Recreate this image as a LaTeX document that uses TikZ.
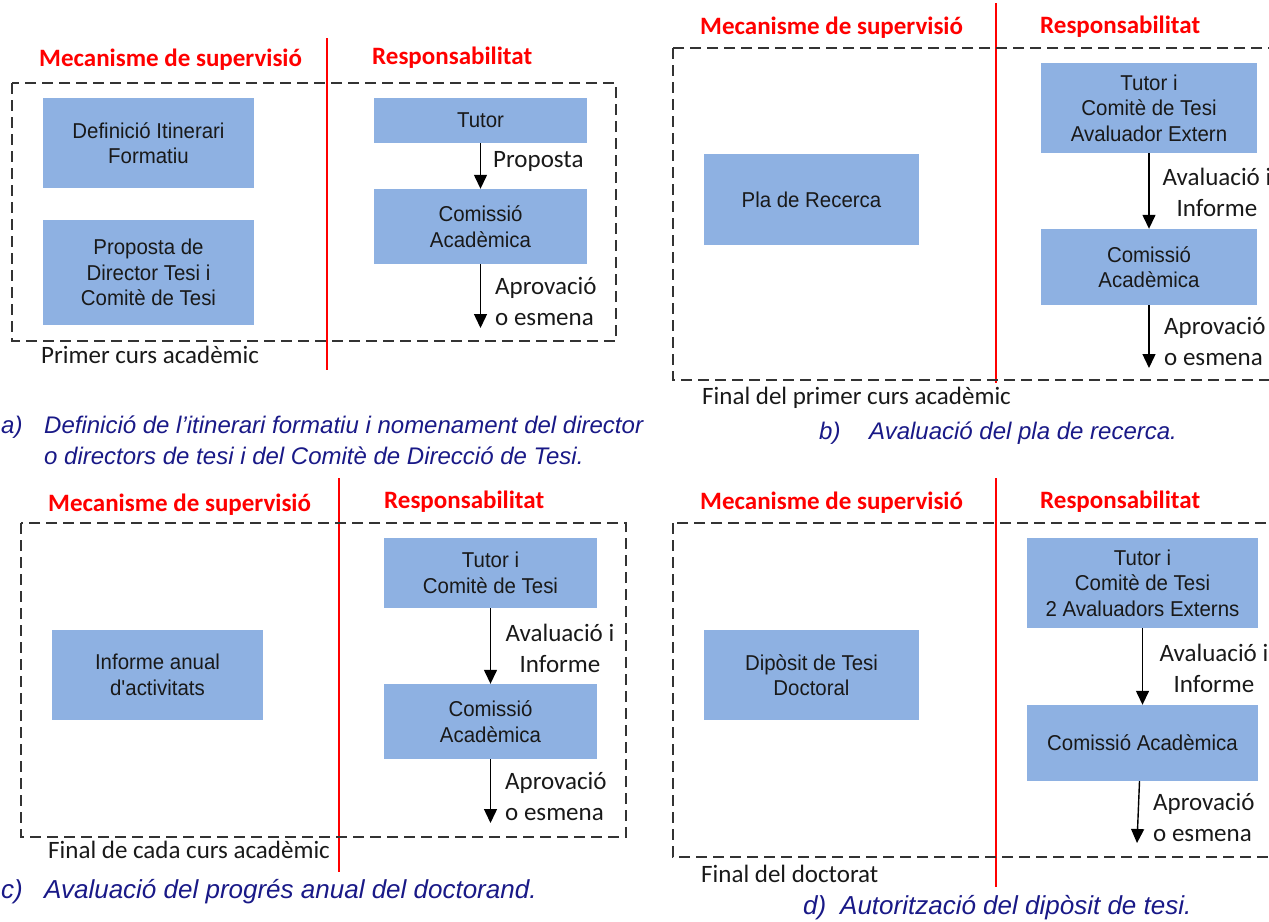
\documentclass[tikz,border=0pt]{standalone}
\usepackage{fontspec}
\setmainfont{Liberation Sans}
\newfontfamily\calib{Carlito}
\newfontfamily\boxfont[FakeStretch=0.95]{Liberation Sans}
\usetikzlibrary{arrows.meta}
\definecolor{boxblue}{RGB}{142,177,226}
\definecolor{capblue}{RGB}{25,25,135}
\definecolor{txtgray}{RGB}{25,25,25}
\begin{document}
\begin{tikzpicture}[x=1pt,y=-1pt,
  box/.style={fill=boxblue, draw=none, align=center, text=txtgray,
    font=\boxfont\fontsize{21.5}{25.5}\selectfont, inner sep=0pt},
  ttl/.style={font=\calib\bfseries\fontsize{25}{30}\selectfont, text=red, anchor=west, inner sep=0pt},
  lbl/.style={font=\calib\fontsize{25}{31}\selectfont, text=txtgray, inner sep=0pt},
  period/.style={font=\calib\fontsize{25}{30}\selectfont, text=txtgray, anchor=west, inner sep=0pt},
  capt/.style={font=\itshape\fontsize{24}{31}\selectfont, text=capblue, anchor=west, align=left, inner sep=0pt},
  frame/.style={draw=black!80, line width=1.5pt, dash pattern=on 11pt off 6pt},
  arr/.style={-{Triangle[width=13pt,length=14pt]}, line width=1.4pt, draw=black},
  sepline/.style={draw=red, line width=1.2pt}
]
\useasboundingbox (0,0) rectangle (1269,921);

% ---------------- Panel a ----------------
\node[ttl] (aT1) at (39,60) {Mecanisme de supervisió};
\node[ttl] (aT2) at (372,58) {Responsabilitat};
\draw[sepline] (327,38) -- (327,370);
\draw[frame] (12,83) rectangle (616,341);
\node[box, minimum width=211pt, minimum height=90pt] (a1) at (148.5,143) {Definició Itinerari\\Formatiu};
\node[box, minimum width=211pt, minimum height=105pt] (a2) at (148.5,272.5) {Proposta de\\Director Tesi i\\Comitè de Tesi};
\node[box, minimum width=213pt, minimum height=45pt] (aTut) at (480.5,120.5) {Tutor};
\node[box, minimum width=213pt, minimum height=75pt] (aCom) at (480.5,226.5) {Comissió\\Acadèmica};
\coordinate (aEnd) at (480.5,328);
\draw[arr] (aTut.south) -- (aCom.north);
\draw[arr] (aCom.south) -- (aEnd);
\node[lbl, anchor=west] (aL1) at (493,161) {Proposta};
\node[lbl, anchor=west, align=left] (aL2) at (495,301.5) {Aprovació\\o esmena};
\node[period] (aP) at (41,355) {Primer curs acadèmic};
\node[capt] (aC) at (1,440.5) {\makebox[43pt][l]{a)}Definició de l’itinerari formatiu i nomenament del director\\\hspace*{43pt}o directors de tesi i del Comitè de Direcció de Tesi.};

% ---------------- Panel b ----------------
\node[ttl] (bT1) at (700,28) {Mecanisme de supervisió};
\node[ttl] (bT2) at (1040,27) {Responsabilitat};
\draw[sepline] (996,3) -- (996,383);
\draw[frame] (673,48) rectangle (1290,380);
\node[box, minimum width=215pt, minimum height=91pt] (bPla) at (811.5,199.5) {Pla de Recerca};
\node[box, minimum width=216pt, minimum height=90pt] (bTut) at (1149,108) {Tutor i\\Comitè de Tesi\\Avaluador Extern};
\node[box, minimum width=216pt, minimum height=76pt] (bCom) at (1149,267) {Comissió\\Acadèmica};
\coordinate (bEnd) at (1149,368);
\draw[arr] (bTut.south) -- (bCom.north);
\draw[arr] (bCom.south) -- (bEnd);
\node[lbl, align=center] (bL1) at (1217,192.5) {Avaluació i\\Informe};
\node[lbl, anchor=west, align=left] (bL2) at (1164,341) {Aprovació\\o esmena};
\node[period] (bP) at (702,398) {Final del primer curs acadèmic};
\node[capt] (bC) at (819,433) {\makebox[50pt][l]{b)}Avaluació del pla de recerca.};

% ---------------- Panel c ----------------
\node[ttl] (cT1) at (48,505) {Mecanisme de supervisió};
\node[ttl] (cT2) at (384,502) {Responsabilitat};
\draw[sepline] (339,478) -- (339,872);
\draw[frame] (21,523) rectangle (626,837);
\node[box, minimum width=211pt, minimum height=90pt] (cInf) at (157.5,675) {Informe anual\\d'activitats};
\node[box, minimum width=213pt, minimum height=70pt] (cTut) at (490.5,573) {Tutor i\\Comitè de Tesi};
\node[box, minimum width=213pt, minimum height=75pt] (cCom) at (490.5,721.5) {Comissió\\Acadèmica};
\coordinate (cEnd) at (490.5,823);
\draw[arr] (cTut.south) -- (cCom.north);
\draw[arr] (cCom.south) -- (cEnd);
\node[lbl, align=center] (cL1) at (560,648) {Avaluació i\\Informe};
\node[lbl, anchor=west, align=left] (cL2) at (505,796.5) {Aprovació\\o esmena};
\node[period] (cP) at (48,850) {Final de cada curs acadèmic};
\node[capt, font=\itshape\fontsize{26}{31}\selectfont] (cC) at (1,892) {\makebox[43pt][l]{c)}Avaluació del progrés anual del doctorand.};

% ---------------- Panel d ----------------
\node[ttl] (dT1) at (700,503) {Mecanisme de supervisió};
\node[ttl] (dT2) at (1040,502) {Responsabilitat};
\draw[sepline] (996,478) -- (996,887);
\draw[frame] (673,523) rectangle (1290,857);
\node[box, minimum width=215pt, minimum height=90pt] (dDip) at (811.5,675) {Dipòsit de Tesi\\Doctoral};
\node[box, minimum width=231pt, minimum height=90pt] (dTut) at (1142.5,583) {Tutor i\\Comitè de Tesi\\2 Avaluadors Externs};
\node[box, minimum width=231pt, minimum height=76pt] (dCom) at (1142.5,743) {Comissió Acadèmica};
\coordinate (dEnd) at (1137,843);
\draw[arr] (dTut.south) -- (dCom.north);
\draw[arr] ([xshift=-3pt]dCom.south) -- (dEnd);
\node[lbl, align=center] (dL1) at (1214,668) {Avaluació i\\Informe};
\node[lbl, anchor=west, align=left] (dL2) at (1153,817.5) {Aprovació\\o esmena};
\node[period] (dP) at (701,874) {Final del doctorat};
\node[capt, font=\itshape\fontsize{26}{31}\selectfont] (dC) at (803,908) {\makebox[37pt][l]{d)}Autorització del dipòsit de tesi.};
\end{tikzpicture}
\end{document}
